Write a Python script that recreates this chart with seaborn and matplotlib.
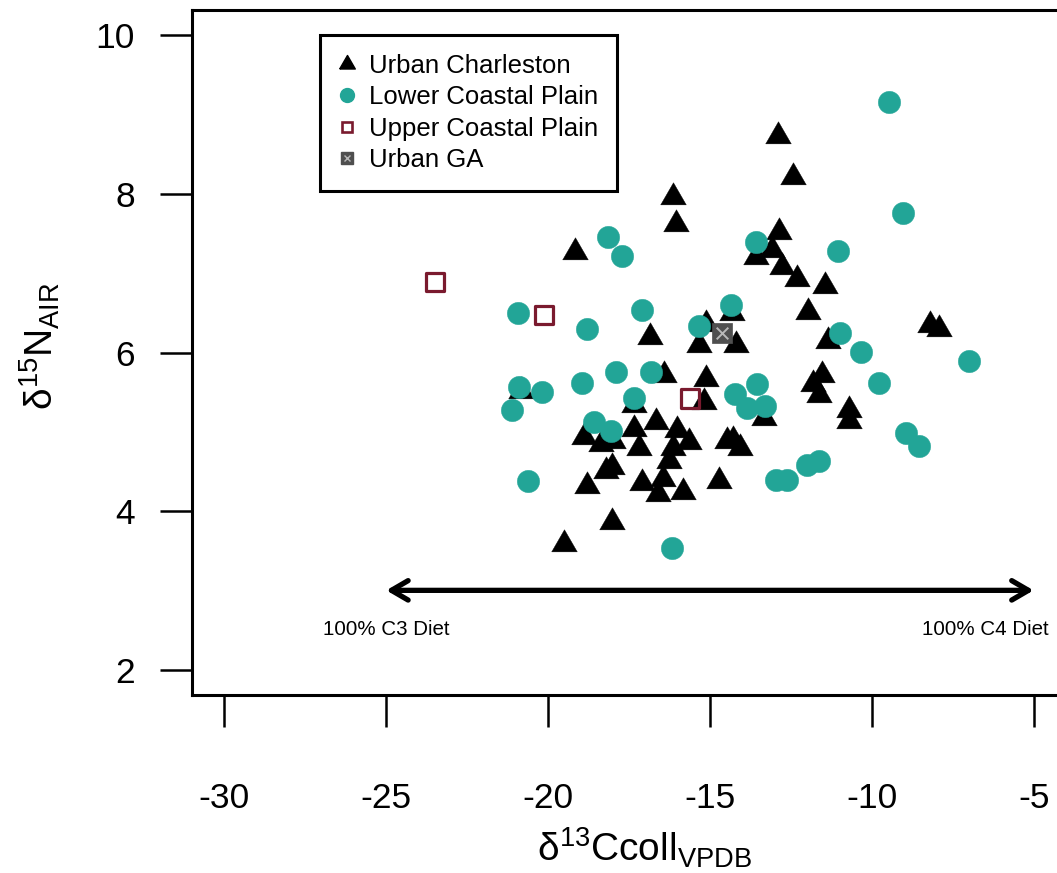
import numpy as np
import pandas as pd
import matplotlib
matplotlib.use("Agg")
import matplotlib.pyplot as plt
from matplotlib.lines import Line2D
import seaborn as sns

# --- isotope measurements (delta13C collagen, delta15N) per group ---
charleston_c = [-16.14, -16.05, -19.17, -12.90, -12.44, -12.87, -13.58, -13.09, -12.78,
                -12.31, -11.45, -11.98, -14.32, -8.21, -7.93, -11.36, -11.54, -11.82,
                -11.64, -10.71, -10.71, -13.33, -15.12, -15.34, -14.20, -15.12, -15.19,
                -16.85, -16.42, -20.83, -17.35, -18.89, -18.36, -17.99, -17.35, -16.67,
                -16.02, -17.19, -16.14, -15.65, -16.27, -14.48, -14.29, -14.07, -18.21,
                -18.02, -18.80, -17.10, -16.45, -16.60, -15.83, -14.72, -18.02, -19.51]
charleston_n = [7.96, 7.62, 7.27, 8.73, 8.21, 7.52, 7.21, 7.29, 7.08,
                6.93, 6.84, 6.51, 6.50, 6.35, 6.30, 6.15, 5.72, 5.60,
                5.47, 5.27, 5.13, 5.18, 6.36, 6.10, 6.10, 5.67, 5.37,
                6.19, 5.72, 5.51, 5.34, 4.93, 4.85, 4.89, 5.04, 5.12,
                5.02, 4.79, 4.79, 4.87, 4.63, 4.88, 4.90, 4.80, 4.51,
                4.55, 4.31, 4.35, 4.40, 4.22, 4.24, 4.38, 3.86, 3.58]

lower_c = [-9.48, -9.04, -18.15, -17.72, -13.58, -11.05, -20.93, -18.80, -17.10,
           -14.35, -15.34, -10.99, -10.34, -7.01, -9.78, -17.90, -18.95, -16.82,
           -20.90, -20.19, -21.11, -17.35, -18.58, -18.06, -14.23, -13.55, -13.86,
           -13.30, -12.01, -11.64, -12.96, -12.62, -8.95, -8.55, -20.62, -16.17]
lower_n = [9.16, 7.76, 7.46, 7.22, 7.40, 7.28, 6.50, 6.30, 6.53,
           6.60, 6.33, 6.24, 6.01, 5.89, 5.61, 5.76, 5.62, 5.75,
           5.56, 5.50, 5.27, 5.43, 5.12, 5.01, 5.48, 5.60, 5.30,
           5.32, 4.58, 4.63, 4.39, 4.39, 4.98, 4.82, 4.38, 3.53]

upper_c = [-23.49, -20.12, -15.62]
upper_n = [6.89, 6.47, 5.42]

ga_c = [-14.63]
ga_n = [6.24]

group_labels = ["Urban Charleston", "Lower Coastal Plain", "Upper Coastal Plain", "Urban GA"]

x_ticks = [-30, -25, -20, -15, -10, -5]
y_ticks = [2, 4, 6, 8, 10]
x_limits = (-30, -5)
y_limits = (2, 10)

# diet gradient annotation
diet_arrow_x = (-25, -5)
diet_arrow_y = 3
diet_labels = ["100% C3 Diet", "100% C4 Diet"]
diet_label_x = [-25, -6.5]
diet_label_y = 2.5

# --- colours ---
teal = "#22A597"
maroon = "#7A1A2E"
ga_grey = "#4F4F4F"

sns.set_theme(style="ticks")
plt.rcParams["font.family"] = ["Liberation Sans", "DejaVu Sans"]
plt.rcParams["mathtext.default"] = "regular"
plt.rcParams["text.color"] = "black"
plt.rcParams["axes.labelcolor"] = "black"
plt.rcParams["xtick.color"] = "black"
plt.rcParams["ytick.color"] = "black"

fig = plt.figure(figsize=(10.57, 8.73), dpi=100)
ax = fig.add_axes([192 / 1057, 178 / 873, 874 / 1057, 685 / 873])

# equilateral triangle centred on its centroid (filled, like R's pch 17)
tri = np.array([[-1.0, -0.5774], [1.0, -0.5774], [0.0, 1.1547], [-1.0, -0.5774]])

df_ch = pd.DataFrame({"c": charleston_c, "n": charleston_n})
df_lo = pd.DataFrame({"c": lower_c, "n": lower_n})
df_up = pd.DataFrame({"c": upper_c, "n": upper_n})
df_ga = pd.DataFrame({"c": ga_c, "n": ga_n})

sns.scatterplot(data=df_ch, x="c", y="n", ax=ax, marker=tri, s=450,
                color="black", edgecolor="black", linewidth=0.3, legend=False, zorder=3)
sns.scatterplot(data=df_lo, x="c", y="n", ax=ax, marker="o", s=260,
                color=teal, edgecolor=teal, linewidth=0.3, legend=False, zorder=4)
sns.scatterplot(data=df_up, x="c", y="n", ax=ax, marker="s", s=175,
                color="none", edgecolor=maroon, linewidth=2.3, legend=False, zorder=5)
sns.scatterplot(data=df_ga, x="c", y="n", ax=ax, marker="s", s=220,
                color=ga_grey, edgecolor=ga_grey, linewidth=0.5, legend=False, zorder=6)
sns.scatterplot(data=df_ga, x="c", y="n", ax=ax, marker="x", s=70,
                color="#B8B8B8", linewidth=1.4, legend=False, zorder=7)

# diet gradient arrow and end labels
ax.annotate("", xy=(diet_arrow_x[1], diet_arrow_y), xytext=(diet_arrow_x[0], diet_arrow_y),
            arrowprops=dict(arrowstyle="<->,head_length=0.6,head_width=0.35",
                            lw=3.8, color="black", shrinkA=0, shrinkB=0,
                            mutation_scale=20, capstyle="round", joinstyle="round"))
for lab, lx in zip(diet_labels, diet_label_x):
    ax.text(lx, diet_label_y, lab, ha="center", va="center", fontsize=14.8)

# axes, limits (R-style 4% padding) and box
pad_x = 0.04 * (x_limits[1] - x_limits[0])
pad_y = 0.04 * (y_limits[1] - y_limits[0])
ax.set_xlim(x_limits[0] - pad_x, x_limits[1] + pad_x)
ax.set_ylim(y_limits[0] - pad_y, y_limits[1] + pad_y)
ax.set_xticks(x_ticks)
ax.set_yticks(y_ticks)
ax.set_xticklabels([str(t) for t in x_ticks])
ax.set_yticklabels([str(t) for t in y_ticks])
for sp in ax.spines.values():
    sp.set_linewidth(2.2)
    sp.set_color("black")
ax.tick_params(axis="both", direction="out", length=23, width=1.8, labelsize=25.5)
ax.tick_params(axis="x", pad=40)
ax.tick_params(axis="y", pad=18)

ax.set_xlabel(r"$\delta^{13}$Ccoll$_{VPDB}$", fontsize=28, va="center")
ax.xaxis.set_label_coords((644 - 192) / 874, -(848 - 695) / 685)
ax.set_ylabel(r"$\delta^{15}$N$_{AIR}$", fontsize=28, va="center")
ax.yaxis.set_label_coords((40 - 192) / 874, 1 - (346 - 10) / 685)

# legend
handles = [
    Line2D([], [], marker=tri, color="black", linestyle="none", markersize=13),
    Line2D([], [], marker="o", color=teal, linestyle="none", markersize=10),
    Line2D([], [], marker="s", markerfacecolor="none", markeredgecolor=maroon,
           markeredgewidth=1.9, linestyle="none", markersize=7.5),
    (Line2D([], [], marker="s", color=ga_grey, linestyle="none", markersize=8.5),
     Line2D([], [], marker="x", color="#B8B8B8", markeredgewidth=1.0,
            linestyle="none", markersize=4.5)),
]
leg = ax.legend(handles, group_labels, loc="upper left",
                bbox_to_anchor=((320 - 192) / 874, 1 - (35 - 10) / 685),
                borderaxespad=0, fontsize=18.5, frameon=True, fancybox=False,
                edgecolor="black", framealpha=1, borderpad=0.75, labelspacing=0.28,
                handlelength=0.6, handletextpad=0.55)
leg.get_frame().set_linewidth(2.2)

fig.savefig("out.png", dpi=100)
